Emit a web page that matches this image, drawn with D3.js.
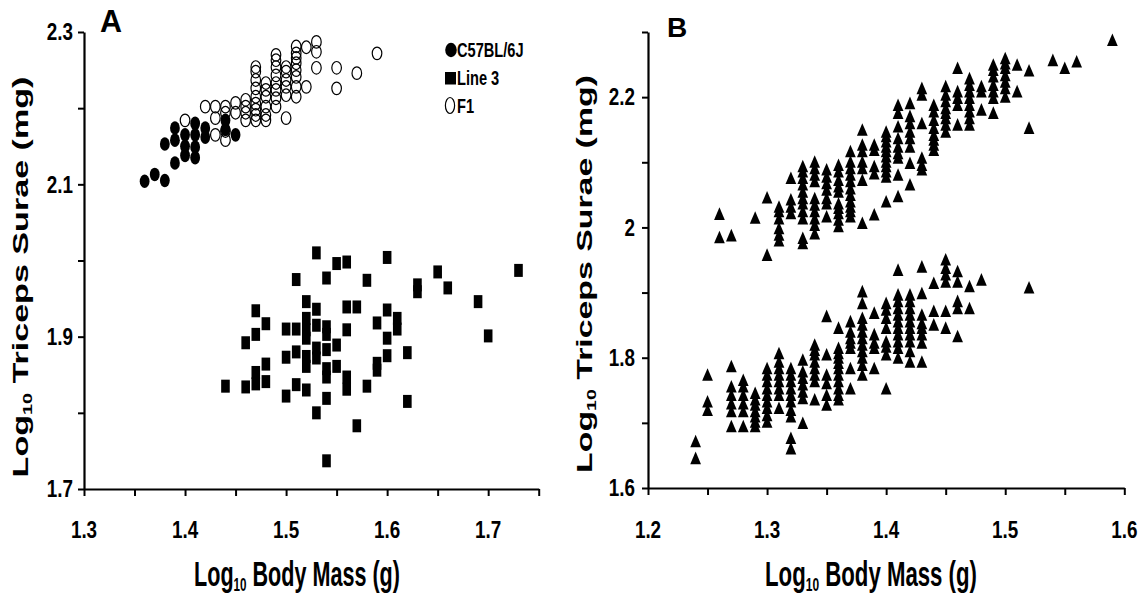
<!DOCTYPE html>
<html><head><meta charset="utf-8">
<script src="https://cdn.jsdelivr.net/npm/d3@7"></script>
<style>body{margin:0;background:#fff}svg{display:block}</style>
</head><body>
<svg id="c" width="1148" height="597"></svg>
<script>
// ---------- DATA ----------
// Panel A: [log10 body mass, log10 triceps surae]
const c57 = [[1.36,2.104],[1.37,2.113],[1.38,2.105],[1.38,2.153],[1.39,2.128],[1.39,2.158],[1.39,2.174],
  [1.40,2.138],[1.40,2.150],[1.40,2.165],[1.41,2.135],[1.41,2.149],[1.41,2.165],[1.41,2.180],
  [1.42,2.162],[1.42,2.174],[1.44,2.184],[1.44,2.172],[1.45,2.165]];
const f1 = [[1.40,2.184],[1.42,2.202],[1.43,2.202],[1.43,2.187],[1.43,2.165],[1.44,2.202],[1.44,2.194],
  [1.44,2.158],[1.44,2.170],[1.45,2.207],[1.45,2.194],[1.46,2.211],[1.46,2.202],[1.46,2.194],[1.46,2.184],
  [1.47,2.254],[1.47,2.248],[1.47,2.237],[1.47,2.226],[1.47,2.215],[1.47,2.206],[1.47,2.198],[1.47,2.191],[1.47,2.184],
  [1.48,2.233],[1.48,2.224],[1.48,2.215],[1.48,2.202],[1.48,2.191],[1.48,2.184],
  [1.49,2.270],[1.49,2.263],[1.49,2.254],[1.49,2.243],[1.49,2.233],[1.49,2.224],[1.49,2.213],[1.49,2.202],
  [1.50,2.254],[1.50,2.248],[1.50,2.237],[1.50,2.228],[1.50,2.217],[1.50,2.187],
  [1.51,2.281],[1.51,2.272],[1.51,2.266],[1.51,2.259],[1.51,2.250],[1.51,2.241],[1.51,2.228],[1.51,2.215],
  [1.52,2.280],[1.52,2.228],[1.53,2.287],[1.53,2.274],[1.53,2.253],
  [1.55,2.253],[1.55,2.226],[1.57,2.246],[1.59,2.272]];
const line3 = [[1.53,2.010],[1.55,1.996],[1.56,1.998],[1.60,2.004],[1.51,1.975],[1.54,1.977],[1.58,1.974],
  [1.63,1.968],[1.63,1.959],[1.65,1.985],[1.66,1.964],[1.73,1.987],[1.69,1.946],[1.70,1.901],[1.52,1.946],
  [1.53,1.936],[1.56,1.939],[1.57,1.939],[1.60,1.935],[1.47,1.934],[1.48,1.917],[1.47,1.903],[1.46,1.892],
  [1.50,1.910],[1.51,1.910],[1.52,1.924],[1.52,1.909],[1.52,1.898],[1.53,1.915],[1.54,1.913],[1.54,1.903],
  [1.56,1.909],[1.59,1.918],[1.61,1.924],[1.61,1.910],[1.60,1.898],[1.55,1.889],[1.54,1.883],[1.53,1.885],
  [1.53,1.872],[1.51,1.880],[1.50,1.873],[1.52,1.874],[1.52,1.861],[1.48,1.864],[1.47,1.853],[1.47,1.838],
  [1.48,1.841],[1.46,1.834],[1.44,1.835],[1.54,1.858],[1.54,1.847],[1.55,1.861],[1.56,1.847],[1.56,1.831],
  [1.59,1.865],[1.59,1.856],[1.60,1.875],[1.62,1.879],[1.58,1.835],[1.51,1.837],[1.52,1.830],[1.50,1.822],
  [1.54,1.819],[1.62,1.815],[1.53,1.800],[1.57,1.783],[1.54,1.737]];

// Panel B: columns [body mass, [triceps surae values...]]
const bUpperCols = [
  [1.26,[2.018,1.982]],[1.27,[1.985]],[1.29,[2.012]],[1.30,[2.043,1.955]],
  [1.31,[2.029,2.022,2.011,1.996,1.986,1.977]],[1.32,[2.073,2.040,2.029,2.019]],
  [1.33,[2.091,2.083,2.073,2.063,2.052,2.042,2.034,2.022,2.011,1.981,1.973]],
  [1.34,[2.098,2.088,2.078,2.068,2.042,2.032,2.022,2.011,2.001,1.988]],
  [1.35,[2.086,2.075,2.065,2.055,2.042,2.034,2.014]],
  [1.36,[2.093,2.083,2.070,2.060,2.052,2.034,2.027,2.019,2.009,1.999]],
  [1.37,[2.114,2.098,2.088,2.078,2.068,2.057,2.047,2.037,2.029,2.022,2.014]],
  [1.38,[2.147,2.124,2.114,2.098,2.088,2.070,2.004]],[1.39,[2.124,2.116,2.091,2.080,2.017]],
  [1.40,[2.144,2.137,2.129,2.121,2.114,2.106,2.098,2.091,2.083,2.075,2.037]],
  [1.41,[2.185,2.173,2.152,2.134,2.121,2.111,2.104,2.078,2.045]],
  [1.42,[2.188,2.168,2.157,2.144,2.134,2.121,2.096,2.063]],
  [1.43,[2.211,2.201,2.157,2.104,2.093,2.086]],
  [1.44,[2.185,2.175,2.162,2.150,2.139,2.132,2.124,2.116]],
  [1.45,[2.214,2.201,2.191,2.180,2.173,2.165,2.155,2.144]],
  [1.46,[2.242,2.206,2.196,2.185,2.155]],
  [1.47,[2.226,2.216,2.206,2.196,2.185,2.175,2.165,2.155]],
  [1.48,[2.214,2.206,2.178]],[1.49,[2.247,2.239,2.229,2.216,2.206,2.196,2.173]],
  [1.50,[2.257,2.249,2.242,2.231,2.221,2.211,2.198]],[1.51,[2.247,2.206]],[1.52,[2.238,2.150]],
  [1.54,[2.254]],[1.55,[2.242]],[1.56,[2.252]],[1.59,[2.285]]];
const bLowerCols = [
  [1.24,[1.669,1.643]],[1.25,[1.771,1.730,1.717]],
  [1.27,[1.784,1.753,1.740,1.727,1.715,1.692]],[1.28,[1.763,1.753,1.740,1.727,1.715,1.692]],
  [1.29,[1.743,1.733,1.725,1.715,1.707,1.699,1.692]],
  [1.30,[1.781,1.771,1.761,1.750,1.740,1.730,1.720,1.709,1.699]],
  [1.31,[1.804,1.791,1.781,1.771,1.761,1.750,1.740,1.720]],
  [1.32,[1.781,1.771,1.761,1.750,1.740,1.730,1.717,1.707,1.674,1.658]],
  [1.33,[1.794,1.776,1.766,1.756,1.745,1.735,1.697]],
  [1.34,[1.817,1.809,1.802,1.791,1.781,1.771,1.761,1.733]],
  [1.35,[1.861,1.802,1.771,1.758,1.740,1.725]],
  [1.36,[1.843,1.812,1.804,1.797,1.789,1.781,1.771,1.761,1.750,1.740,1.733]],
  [1.37,[1.853,1.837,1.827,1.820,1.812,1.781,1.750]],
  [1.38,[1.899,1.881,1.858,1.848,1.837,1.827,1.817,1.807,1.797,1.786,1.771]],
  [1.39,[1.866,1.833,1.820,1.812,1.781]],
  [1.40,[1.881,1.871,1.858,1.843,1.822,1.814,1.802,1.750]],
  [1.41,[1.932,1.894,1.884,1.873,1.863,1.853,1.843,1.833,1.822,1.812,1.797]],
  [1.42,[1.894,1.884,1.873,1.863,1.853,1.843,1.833,1.822,1.807,1.791]],
  [1.43,[1.937,1.896,1.863,1.850,1.843,1.833,1.820,1.791]],
  [1.44,[1.912,1.869,1.848]],[1.45,[1.948,1.935,1.925,1.914,1.869,1.843]],
  [1.46,[1.930,1.914,1.884,1.873,1.830]],[1.47,[1.907,1.873]],[1.48,[1.917]],[1.52,[1.905]]];

// Axis ticks and labels
const aXTicks = [1.3,1.35,1.4,1.45,1.5,1.55,1.6,1.65,1.7,1.75];
const aXLabels = ["1.3","1.4","1.5","1.6","1.7"];
const aYTicks = [1.7,1.8,1.9,2.0,2.1,2.2,2.3];
const aYLabels = ["1.7","1.9","2.1","2.3"];
const bXTicks = [1.2,1.25,1.3,1.35,1.4,1.45,1.5,1.55,1.6];
const bXLabels = ["1.2","1.3","1.4","1.5","1.6"];
const bYTicks = [1.6,1.7,1.8,1.9,2.0,2.1,2.2,2.3];
const bYLabels = ["1.6","1.8","2","2.2"];
const legendItems = ["C57BL/6J","Line 3","F1"];
const xTitle = [["Log",0],["10",1],[" Body Mass (g)",0]];
const yTitle = [["Log",0],["10",1],[" Triceps Surae (mg)",0]];

// ---------- DRAW ----------
const FONT = "'Liberation Sans', Arial, Helvetica, sans-serif";
const svg = d3.select("#c");
svg.append("rect").attr("width",1148).attr("height",597).attr("fill","#fff");

function addParts(t, parts, fs, subRatio, shift){
  let prevSub = false;
  parts.forEach(([s,sub])=>{
    const sp = t.append("tspan").text(s).attr("font-size", sub ? fs*subRatio : fs);
    if (sub && !prevSub) sp.attr("dy", fs*shift);
    if (!sub && prevSub) sp.attr("dy", -fs*shift);
    prevSub = sub;
  });
}
function hText(parts, x, y, fs, opts={}){
  const t = svg.append("text").attr("font-family",FONT).attr("font-weight","bold")
    .attr("font-size",fs).attr("text-anchor",opts.anchor||"middle").attr("fill","#000");
  if (typeof parts === "string") t.text(parts); else addParts(t, parts, fs, 0.54, 0.13);
  let s = opts.sx || 1;
  if (opts.width) s = opts.width / t.node().getBBox().width;
  t.attr("transform",`translate(${x},${y}) scale(${s},1)`);
  return t;
}
function vText(parts, x, y, fs, length){
  const t = svg.append("text").attr("font-family",FONT).attr("font-weight","bold")
    .attr("font-size",fs).attr("text-anchor","middle").attr("fill","#000");
  addParts(t, parts, fs, 0.58, 0.2);
  const s = length / t.node().getBBox().width;
  t.attr("transform",`translate(${x},${y}) scale(1,${s}) rotate(-90)`);
}

function panel(cfg){
  const x = d3.scaleLinear().domain(cfg.xd).range(cfg.xr);
  const y = d3.scaleLinear().domain(cfg.yd).range(cfg.yr);
  const gx = svg.append("g").attr("transform",`translate(0,${cfg.yr[0]})`)
    .call(d3.axisBottom(x).tickValues(cfg.xTicks).tickSize(7).tickSizeOuter(0).tickFormat(""));
  const gy = svg.append("g").attr("transform",`translate(${cfg.xr[0]},0)`)
    .call(d3.axisLeft(y).tickValues(cfg.yTicks).tickSize(6).tickSizeOuter(0).tickFormat(""));
  [gx,gy].forEach(g=>{
    g.select(".domain").attr("stroke","#000").attr("stroke-width",2.2);
    g.selectAll(".tick line").attr("stroke","#000").attr("stroke-width",2);
  });
  cfg.xLabels.forEach(l=>hText(l, x(+l), 538, 23, {sx:0.82}));
  cfg.yLabels.forEach(l=>hText(l, cfg.yLabRight, y(+l)+8.3, 23, {sx:0.82, anchor:"end"}));
  return {x,y};
}

// Panel A
const A = panel({xd:[1.3,1.75], xr:[84,538.7], yd:[1.7,2.3], yr:[489,32],
  xTicks:aXTicks, yTicks:aYTicks, xLabels:aXLabels, yLabels:aYLabels, yLabRight:73});
// Panel B
const B = panel({xd:[1.2,1.6], xr:[648,1124.3], yd:[1.6,2.3], yr:[488,32],
  xTicks:bXTicks, yTicks:bYTicks, xLabels:bXLabels, yLabels:bYLabels, yLabRight:635});

// Panel A marks
svg.append("g").selectAll("rect").data(line3).join("rect")
  .attr("x",d=>A.x(d[0])-4.3).attr("y",d=>A.y(d[1])-6.5)
  .attr("width",8.6).attr("height",13).attr("fill","#000");
svg.append("g").selectAll("ellipse").data(f1).join("ellipse")
  .attr("cx",d=>A.x(d[0])).attr("cy",d=>A.y(d[1])).attr("rx",4.8).attr("ry",6.3)
  .attr("fill","none").attr("stroke","#000").attr("stroke-width",1.2);
svg.append("g").selectAll("ellipse").data(c57).join("ellipse")
  .attr("cx",d=>A.x(d[0])).attr("cy",d=>A.y(d[1])).attr("rx",4.9).attr("ry",6.8)
  .attr("fill","#000");

// Panel B marks
const tri = d3.symbol().type(d3.symbolTriangle).size(50)();
const bPts = bUpperCols.concat(bLowerCols).flatMap(([xv,ys])=>ys.map(yv=>[xv,yv]));
svg.append("g").selectAll("path").data(bPts).join("path")
  .attr("d",tri).attr("fill","#000")
  .attr("transform",d=>`translate(${B.x(d[0])},${B.y(d[1])}) scale(1,1.35)`);

// Legend (panel A)
svg.append("ellipse").attr("cx",451).attr("cy",50).attr("rx",5.8).attr("ry",7.2).attr("fill","#000");
svg.append("rect").attr("x",445).attr("y",72).attr("width",11).attr("height",12.5).attr("fill","#000");
svg.append("ellipse").attr("cx",450).attr("cy",105.5).attr("rx",4.6).attr("ry",8).attr("fill","none")
  .attr("stroke","#000").attr("stroke-width",1.2);
[57,85,113].forEach((yb,i)=>hText(legendItems[i], 457, yb, 19.5, {sx:0.75, anchor:"start"}));

// Panel letters
hText("A", 100, 32, 30.5, {sx:1, anchor:"start"});
hText("B", 667, 37, 28, {sx:1, anchor:"start"});

// Axis titles
hText(xTitle, 297, 586, 35, {width:206});
hText(xTitle, 871, 586, 35, {width:212});
vText(yTitle, 28, 277, 22, 401);
vText(yTitle, 592, 274, 22, 398);
</script>
</body></html>
